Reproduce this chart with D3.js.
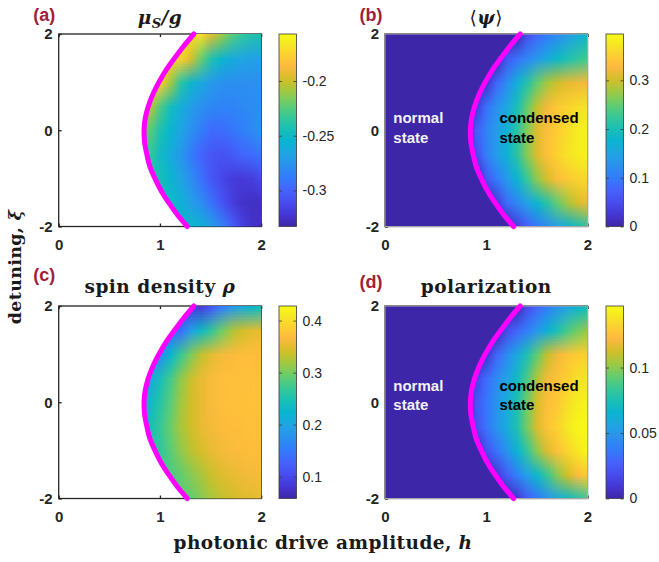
<!DOCTYPE html>
<html>
<head>
<meta charset="utf-8">
<script src="https://cdn.jsdelivr.net/npm/d3@7"></script>
<style>
  body { margin: 0; background: #fff; }
  svg { display: block; }
</style>
</head>
<body>
<svg id="fig" width="659" height="562"></svg>
<script>
const hCols = [0.7, 0.8, 0.9, 1.0, 1.1, 1.2, 1.3, 1.4, 1.5, 1.6, 1.7, 1.8, 1.9, 2.0];
const xiRows = [2, 1.5, 1, 0.5, 0, -0.5, -1, -1.5, -2];
const n = null; // no data (normal state, left blank in the figure)

// phase boundary (magenta)
const boundaryXi = [2, 1.75, 1.5, 1.25, 1, 0.75, 0.5, 0.25, 0, -0.25, -0.5, -0.75, -1, -1.25, -1.5, -1.75, -2];
const boundaryH = [1.335, 1.235, 1.145, 1.06, 0.99, 0.93, 0.885, 0.855, 0.843, 0.848, 0.87, 0.9, 0.95, 1.01, 1.085, 1.17, 1.27];

// (a) mu_S / g
const muValues = [
  [n, n, n, n, n, n, n, -0.170, -0.195, -0.210, -0.224, -0.234, -0.240, -0.243],
  [n, n, n, n, n, -0.176, -0.196, -0.220, -0.240, -0.253, -0.261, -0.266, -0.268, -0.268],
  [n, n, n, -0.178, -0.208, -0.236, -0.252, -0.263, -0.272, -0.277, -0.278, -0.278, -0.278, -0.278],
  [n, n, -0.203, -0.227, -0.246, -0.260, -0.270, -0.277, -0.282, -0.284, -0.284, -0.282, -0.280, -0.278],
  [n, n, -0.224, -0.242, -0.254, -0.266, -0.277, -0.287, -0.296, -0.296, -0.292, -0.287, -0.282, -0.275],
  [n, n, -0.234, -0.249, -0.261, -0.273, -0.287, -0.299, -0.306, -0.308, -0.305, -0.299, -0.296, -0.291],
  [n, n, n, -0.243, -0.254, -0.266, -0.278, -0.292, -0.305, -0.313, -0.319, -0.320, -0.319, -0.313],
  [n, n, n, n, -0.249, -0.257, -0.268, -0.278, -0.292, -0.305, -0.317, -0.324, -0.326, -0.326],
  [n, n, n, n, n, n, -0.252, -0.257, -0.268, -0.282, -0.299, -0.315, -0.324, -0.327]
];
const muRange = [-0.333, -0.157];
const muTicks = [-0.3, -0.25, -0.2];

// (b) <psi>
const psiValues = [
  [0, 0, 0, 0, 0, 0, 0, 0.05, 0.08, 0.10, 0.12, 0.14, 0.16, 0.175],
  [0, 0, 0, 0, 0, 0.06, 0.09, 0.115, 0.135, 0.16, 0.185, 0.205, 0.22, 0.235],
  [0, 0, 0, 0.02, 0.08, 0.12, 0.165, 0.21, 0.25, 0.28, 0.30, 0.315, 0.32, 0.325],
  [0, 0, 0.03, 0.09, 0.125, 0.155, 0.2, 0.25, 0.295, 0.325, 0.345, 0.355, 0.365, 0.37],
  [0, 0, 0.07, 0.11, 0.14, 0.17, 0.215, 0.265, 0.31, 0.335, 0.35, 0.365, 0.38, 0.385],
  [0, 0, 0.05, 0.105, 0.14, 0.17, 0.215, 0.265, 0.31, 0.335, 0.355, 0.37, 0.38, 0.385],
  [0, 0, 0, 0.06, 0.1, 0.135, 0.175, 0.225, 0.27, 0.305, 0.33, 0.345, 0.355, 0.36],
  [0, 0, 0, 0, 0.03, 0.085, 0.115, 0.145, 0.18, 0.215, 0.25, 0.28, 0.305, 0.32],
  [0, 0, 0, 0, 0, 0, 0.035, 0.07, 0.095, 0.12, 0.145, 0.17, 0.195, 0.22]
];
const psiRange = [0, 0.395];
const psiTicks = [0, 0.1, 0.2, 0.3];

// (c) spin density rho
const rhoValues = [
  [n, n, n, n, n, n, n, 0.088, 0.114, 0.151, 0.180, 0.206, 0.225, 0.243],
  [n, n, n, n, n, 0.139, 0.191, 0.232, 0.265, 0.295, 0.321, 0.339, 0.350, 0.354],
  [n, n, n, 0.169, 0.225, 0.269, 0.302, 0.332, 0.350, 0.361, 0.365, 0.369, 0.369, 0.369],
  [n, n, 0.206, 0.243, 0.276, 0.310, 0.336, 0.354, 0.365, 0.369, 0.371, 0.371, 0.371, 0.373],
  [n, n, 0.232, 0.258, 0.287, 0.317, 0.339, 0.354, 0.365, 0.369, 0.371, 0.371, 0.373, 0.373],
  [n, n, 0.243, 0.269, 0.295, 0.321, 0.339, 0.354, 0.361, 0.367, 0.369, 0.369, 0.371, 0.371],
  [n, n, n, 0.262, 0.287, 0.310, 0.328, 0.343, 0.354, 0.361, 0.365, 0.367, 0.369, 0.369],
  [n, n, n, n, 0.280, 0.291, 0.306, 0.321, 0.336, 0.347, 0.354, 0.358, 0.361, 0.361],
  [n, n, n, n, n, n, 0.291, 0.306, 0.321, 0.332, 0.339, 0.347, 0.350, 0.354]
];
const rhoRange = [0.058, 0.428];
const rhoTicks = [0.1, 0.2, 0.3, 0.4];

// (d) polarization
const polValues = [
  [0, 0, 0, 0, 0, 0, 0, 0.018, 0.029, 0.039, 0.048, 0.057, 0.066, 0.073],
  [0, 0, 0, 0, 0, 0.018, 0.029, 0.039, 0.05, 0.063, 0.076, 0.088, 0.096, 0.102],
  [0, 0, 0, 0.008, 0.029, 0.044, 0.058, 0.076, 0.093, 0.11, 0.12, 0.126, 0.13, 0.131],
  [0, 0, 0.015, 0.032, 0.044, 0.055, 0.07, 0.088, 0.107, 0.12, 0.126, 0.131, 0.137, 0.139],
  [0, 0, 0.022, 0.036, 0.048, 0.06, 0.076, 0.095, 0.114, 0.124, 0.128, 0.136, 0.142, 0.143],
  [0, 0, 0.02, 0.035, 0.048, 0.06, 0.077, 0.096, 0.115, 0.126, 0.132, 0.14, 0.145, 0.146],
  [0, 0, 0, 0.02, 0.034, 0.048, 0.064, 0.082, 0.1, 0.115, 0.125, 0.133, 0.14, 0.145],
  [0, 0, 0, 0, 0.01, 0.026, 0.04, 0.054, 0.068, 0.084, 0.099, 0.112, 0.123, 0.129],
  [0, 0, 0, 0, 0, 0, 0.008, 0.024, 0.036, 0.047, 0.058, 0.068, 0.078, 0.086]
];
const polRange = [0, 0.147];
const polTicks = [0, 0.05, 0.1];

const axisTicks = [0, 1, 2];
const yAxisTicks = [-2, 0, 2];

// MATLAB parula, sampled
const parulaPos = [0, 4, 8, 12, 16, 20, 24, 28, 32, 36, 40, 44, 48, 52, 53, 56, 60, 63].map(function (i) { return i / 63; });
const parulaCol = ["#3e26a8", "#4537d5", "#484df0", "#4563fd", "#327cfc", "#2b91ef", "#20a5e3", "#08b5d0",
  "#19bfb6", "#37c897", "#64cd6f", "#9dc943", "#d1bf27", "#f8ba3d", "#febe3c", "#fccf30", "#f5e924", "#f9fb15"];
const parula = d3.scaleLinear().domain(parulaPos).range(parulaCol).clamp(true);

const plotW = 202.5, plotH = 192.5;
const svg = d3.select("#fig");
const serif = "'DejaVu Serif', serif";
const sans = "'Liberation Sans', Arial, sans-serif";
const intFmt = function (d) { return d < 0 ? "-" + Math.abs(d) : String(d); };

// shared colorbar gradient
const defs = svg.append("defs");
const grad = defs.append("linearGradient")
  .attr("id", "parulaGrad").attr("x1", 0).attr("y1", 1).attr("x2", 0).attr("y2", 0);
parulaPos.forEach(function (p, i) {
  grad.append("stop").attr("offset", p).attr("stop-color", parulaCol[i]);
});

const panels = [
  { id: "a", values: muValues, range: muRange, ticks: muTicks, left: 58.7, top: 34, cbLeft: 279,
    blank: true, labelY: 21, titleY: 23.5, title: "mu" },
  { id: "b", values: psiValues, range: psiRange, ticks: psiTicks, left: 385, top: 34, cbLeft: 606,
    blank: false, labelY: 21, titleY: 23.5, title: "psi", stateY: [0.15, -0.27] },
  { id: "c", values: rhoValues, range: rhoRange, ticks: rhoTicks, left: 58.7, top: 306, cbLeft: 279,
    blank: true, labelY: 281, titleY: 292.5, title: "spin density " },
  { id: "d", values: polValues, range: polRange, ticks: polTicks, left: 385, top: 306, cbLeft: 606,
    blank: false, labelY: 288, titleY: 292.5, title: "polarization", stateY: [0.24, -0.16] }
];

function cellImage(values, range) {
  // one pixel per grid cell, coloured through the parula scale
  const canvas = document.createElement("canvas");
  canvas.width = hCols.length;
  canvas.height = xiRows.length;
  const ctx = canvas.getContext("2d");
  const img = ctx.createImageData(canvas.width, canvas.height);
  const norm = d3.scaleLinear().domain(range).range([0, 1]).clamp(true);
  values.forEach(function (row, j) {
    // cells without data take the colour of the first cell with data (hidden by the clip)
    const firstVal = row.find(function (v) { return v !== null; });
    row.forEach(function (v, i) {
      const c = d3.rgb(parula(norm(v === null ? firstVal : v)));
      const k = 4 * (j * canvas.width + i);
      img.data[k] = c.r; img.data[k + 1] = c.g; img.data[k + 2] = c.b; img.data[k + 3] = 255;
    });
  });
  ctx.putImageData(img, 0, 0);
  return canvas.toDataURL("image/png");
}

panels.forEach(function (p) {
  const g = svg.append("g");
  const x = d3.scaleLinear().domain([0, 2]).range([p.left, p.left + plotW]);
  const y = d3.scaleLinear().domain([-2, 2]).range([p.top + plotH, p.top]);
  const boxColor = "#262626";

  // axes box + inward ticks
  g.append("rect").attr("x", x(0)).attr("y", y(2)).attr("width", plotW).attr("height", plotH)
    .attr("fill", "#fff").attr("stroke", boxColor).attr("stroke-width", 1.3);

  const xb = g.append("g").attr("transform", "translate(0," + y(-2) + ")")
    .call(d3.axisBottom(x).tickValues(axisTicks).tickSizeInner(-3).tickSizeOuter(0).tickPadding(13).tickFormat(intFmt));
  const xt = g.append("g").attr("transform", "translate(0," + y(2) + ")")
    .call(d3.axisTop(x).tickValues(axisTicks).tickSizeInner(-3).tickSizeOuter(0).tickFormat(""));
  const yl = g.append("g").attr("transform", "translate(" + x(0) + ",0)")
    .call(d3.axisLeft(y).tickValues(yAxisTicks).tickSizeInner(-3).tickSizeOuter(0).tickPadding(6).tickFormat(intFmt));
  [xb, xt, yl].forEach(function (a) {
    a.select(".domain").remove();
    a.selectAll("line").attr("stroke", boxColor).attr("stroke-width", 1.3);
    a.selectAll("text").attr("font-family", sans).attr("font-weight", "bold")
      .attr("font-size", 15).attr("fill", "#262626");
  });

  // region right of the phase boundary
  const pts = boundaryXi.map(function (xi, i) { return [boundaryH[i], xi]; });
  const line = d3.line().x(function (d) { return x(d[0]); }).y(function (d) { return y(d[1]); })
    .curve(d3.curveCatmullRom);
  const clipId = "clip" + p.id;
  defs.append("clipPath").attr("id", clipId).append("path")
    .attr("d", line(pts) + "L" + x(2) + "," + y(-2) + "L" + x(2) + "," + y(2) + "Z");

  if (!p.blank) {
    g.append("rect").attr("x", x(0)).attr("y", y(2)).attr("width", plotW).attr("height", plotH)
      .attr("fill", parula(0));
  }
  const dh = hCols[1] - hCols[0];
  const dxi = xiRows[0] - xiRows[1];
  g.append("image")
    .attr("href", cellImage(p.values, p.range))
    .attr("x", x(hCols[0] - dh / 2))
    .attr("y", y(xiRows[0] + dxi / 2))
    .attr("width", x(hCols[hCols.length - 1] + dh / 2) - x(hCols[0] - dh / 2))
    .attr("height", y(xiRows[xiRows.length - 1] - dxi / 2) - y(xiRows[0] + dxi / 2))
    .attr("preserveAspectRatio", "none")
    .attr("clip-path", "url(#" + clipId + ")");

  if (!p.blank) {
    g.append("rect").attr("x", x(0)).attr("y", y(2)).attr("width", plotW).attr("height", plotH)
      .attr("fill", "none").attr("stroke", "#a8a8a8").attr("stroke-width", 1);
    const stateRows = [["normal", "condensed"], ["state", "state"]];
    stateRows.forEach(function (r, k) {
      g.append("text").attr("x", x(0.082)).attr("y", y(p.stateY[k])).text(r[0])
        .attr("font-family", sans).attr("font-weight", "bold").attr("font-size", 15).attr("fill", "#f2f2f2");
      g.append("text").attr("x", x(1.13)).attr("y", y(p.stateY[k])).text(r[1])
        .attr("font-family", sans).attr("font-weight", "bold").attr("font-size", 15).attr("fill", "#000");
    });
  }

  // boundary curve
  g.append("path").attr("d", line(pts)).attr("fill", "none")
    .attr("stroke", "#ff00ff").attr("stroke-width", 5).attr("stroke-linecap", "round");

  // colorbar
  const cbW = 17.5;
  const cb = d3.scaleLinear().domain(p.range).range([p.top + plotH, p.top]);
  g.append("rect").attr("x", p.cbLeft).attr("y", p.top).attr("width", cbW).attr("height", plotH)
    .attr("fill", "url(#parulaGrad)").attr("stroke", "#3a3a3a").attr("stroke-width", 0.8);
  const cr = g.append("g").attr("transform", "translate(" + (p.cbLeft + cbW) + ",0)")
    .call(d3.axisRight(cb).tickValues(p.ticks).tickSizeInner(-3).tickSizeOuter(0).tickPadding(6)
      .tickFormat(function (d) { return String(d); }));
  const cl = g.append("g").attr("transform", "translate(" + p.cbLeft + ",0)")
    .call(d3.axisLeft(cb).tickValues(p.ticks).tickSizeInner(-3).tickSizeOuter(0).tickFormat(""));
  [cr, cl].forEach(function (a) {
    a.select(".domain").remove();
    a.selectAll("line").attr("stroke", "#3a3a3a").attr("stroke-width", 0.8);
    a.selectAll("text").attr("font-family", sans).attr("font-size", 14).attr("fill", "#262626");
  });

  // panel letter
  g.append("text").attr("x", p.left - 25.5).attr("y", p.labelY).text("(" + p.id + ")")
    .attr("font-family", sans).attr("font-weight", "bold").attr("font-size", 18).attr("fill", "#a0203a");

  // title
  const t = g.append("text").attr("x", p.left + plotW / 2).attr("y", p.titleY)
    .attr("text-anchor", "middle").attr("font-family", serif).attr("font-weight", "bold")
    .attr("font-size", 18.5).attr("letter-spacing", 0.5).attr("fill", "#1a1a1a");
  if (p.title === "mu") {
    t.attr("font-style", "italic");
    t.append("tspan").text("μ");
    t.append("tspan").attr("font-size", 13).attr("dy", 4).text("S");
    t.append("tspan").attr("dy", -4).text("/g");
  } else if (p.title === "psi") {
    t.append("tspan").attr("font-weight", "normal").text("⟨");
    t.append("tspan").attr("font-style", "italic").text("ψ");
    t.append("tspan").attr("font-weight", "normal").text("⟩");
  } else if (p.id === "c") {
    t.append("tspan").text(p.title);
    t.append("tspan").attr("font-style", "italic").text("ρ");
  } else {
    t.text(p.title);
  }
});

// shared axis labels
const yLab = svg.append("text").attr("transform", "translate(21,267) rotate(-90)")
  .attr("text-anchor", "middle").attr("font-family", serif).attr("font-weight", "bold")
  .attr("font-size", 17.5).attr("letter-spacing", 0.3).attr("fill", "#1a1a1a");
yLab.append("tspan").text("detuning, ");
yLab.append("tspan").attr("font-style", "italic").text("ξ");

const xLab = svg.append("text").attr("x", 323).attr("y", 549)
  .attr("text-anchor", "middle").attr("font-family", serif).attr("font-weight", "bold")
  .attr("font-size", 18.5).attr("letter-spacing", 0.4).attr("fill", "#1a1a1a");
xLab.append("tspan").text("photonic drive amplitude, ");
xLab.append("tspan").attr("font-style", "italic").text("h");
</script>
</body>
</html>
